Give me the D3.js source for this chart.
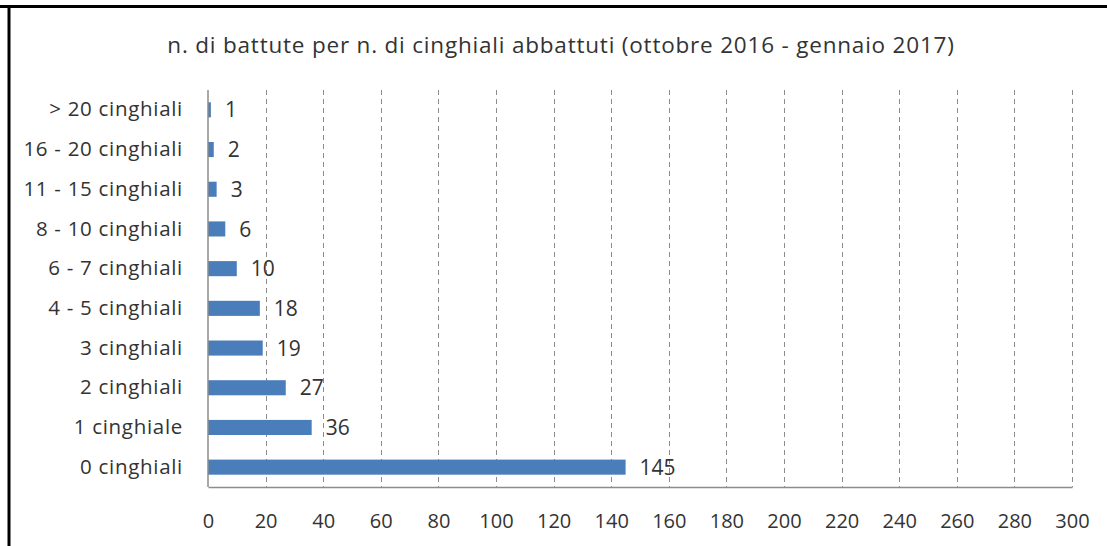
<!DOCTYPE html>
<html>
<head>
<meta charset="utf-8">
<script src="https://cdn.jsdelivr.net/npm/d3@7"></script>
<style>
  body { margin: 0; background: #fff; }
  svg text { font-family: "Open Sans", Lato, sans-serif; fill: #333; }
</style>
</head>
<body>
<div id="chart"></div>
<script>
// categories, top to bottom
const categories = ["> 20 cinghiali", "16 - 20 cinghiali", "11 - 15 cinghiali", "8 - 10 cinghiali",
    "6 - 7 cinghiali", "4 - 5 cinghiali", "3 cinghiali", "2 cinghiali", "1 cinghiale", "0 cinghiali"];
const values = [1, 2, 3, 6, 10, 18, 19, 27, 36, 145];
const xTicks = [0, 20, 40, 60, 80, 100, 120, 140, 160, 180, 200, 220, 240, 260, 280, 300];
const title = "n. di battute per n. di cinghiali abbattuti (ottobre 2016 - gennaio 2017)";

const W = 1107, H = 546;
const margin = { top: 90, right: 35, bottom: 59, left: 208 };

const svg = d3.select("#chart").append("svg")
    .attr("width", W)
    .attr("height", H);

// frame: top and left only
svg.append("line").attr("x1", 0).attr("x2", W).attr("y1", 6.5).attr("y2", 6.5)
    .attr("stroke", "#000").attr("stroke-width", 3);
svg.append("line").attr("x1", 9).attr("x2", 9).attr("y1", 5).attr("y2", H)
    .attr("stroke", "#000").attr("stroke-width", 3);

svg.append("text")
    .attr("x", 561)
    .attr("y", 53)
    .attr("text-anchor", "middle")
    .style("font-size", "22.5px")
    .style("letter-spacing", "0.8px")
    .text(title);

const x = d3.scaleLinear().domain([0, 300]).range([margin.left, W - margin.right]);
const y = d3.scaleBand().domain(categories).range([margin.top, H - margin.bottom]).paddingInner(0.62).paddingOuter(0.31);

// dashed gridlines
svg.append("g")
    .selectAll("line")
    .data(xTicks.filter(d => d > 0))
    .enter().append("line")
    .attr("x1", d => Math.round(x(d)) + 0.5)
    .attr("x2", d => Math.round(x(d)) + 0.5)
    .attr("y1", margin.top)
    .attr("y2", H - margin.bottom)
    .attr("stroke", "#8c8c8c")
    .attr("stroke-dasharray", "5,4");

// bars
svg.append("g")
    .selectAll("rect")
    .data(values)
    .enter().append("rect")
    .attr("x", x(0))
    .attr("y", (d, i) => y(categories[i]))
    .attr("width", d => x(d) - x(0))
    .attr("height", y.bandwidth())
    .attr("fill", "#4a7ebb");

// value labels
svg.append("g")
    .selectAll("text")
    .data(values)
    .enter().append("text")
    .attr("x", d => x(d) + 14)
    .attr("y", (d, i) => y(categories[i]) + y.bandwidth() / 2)
    .attr("dy", "0.36em")
    .style("font-size", "21px")
    .text(d => d);

// x axis
const xAxis = svg.append("g")
    .attr("transform", "translate(0," + (H - margin.bottom) + ")")
    .call(d3.axisBottom(x).tickValues(xTicks).tickSize(0).tickPadding(27));
xAxis.select(".domain").attr("stroke", "#8c8c8c").attr("stroke-width", 1.5);
xAxis.selectAll("text").style("font-size", "20px").attr("fill", "#333");

// y axis
const yAxis = svg.append("g")
    .attr("transform", "translate(" + margin.left + ",0)")
    .call(d3.axisLeft(y).tickSize(0).tickPadding(25));
yAxis.select(".domain").attr("stroke", "#8c8c8c").attr("stroke-width", 1.5)
    .attr("d", "M0," + margin.top + "V" + (H - margin.bottom));
yAxis.selectAll("text").style("font-size", "20.5px").style("letter-spacing", "0.7px").attr("fill", "#333");
</script>
</body>
</html>
